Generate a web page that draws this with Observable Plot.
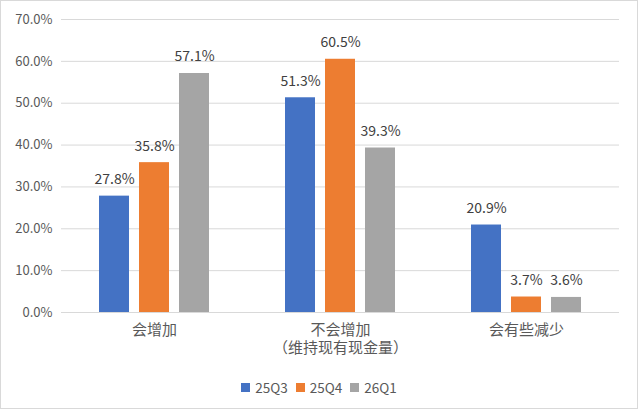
<!DOCTYPE html>
<html><head><meta charset="utf-8">
<script src="https://cdn.jsdelivr.net/npm/d3@7"></script>
<script src="https://cdn.jsdelivr.net/npm/@observablehq/plot@0.6"></script>
<style>
html,body{margin:0;padding:0;background:#fff;}
#wrap{width:638px;height:409px;box-sizing:border-box;border:1px solid #d9d9d9;position:relative;overflow:hidden;font-family:"Noto Sans CJK SC","Noto Sans",sans-serif;}
#chart svg{display:block;}
#legend{position:absolute;left:0;right:0;top:376px;display:flex;justify-content:center;gap:8px;font-size:13.5px;color:#595959;}
#legend span.item{display:flex;align-items:center;gap:5px;}
#legend i{display:inline-block;width:9px;height:9px;}
</style></head>
<body><div id="wrap"><div id="chart"></div><div id="legend"></div></div>
<script>
const categories = ["会增加", "不会增加\n（维持现有现金量）", "会有些减少"];
const series = ["25Q3", "25Q4", "26Q1"];
const colors = ["#4472C4", "#ED7D31", "#A5A5A5"];
const v25Q3 = [27.8, 51.3, 20.9];
const v25Q4 = [35.8, 60.5, 3.7];
const v26Q1 = [57.1, 39.3, 3.6];
const yTicks = [0, 10, 20, 30, 40, 50, 60, 70];

const values = [v25Q3, v25Q4, v26Q1];
const data = [];
categories.forEach((c, i) => series.forEach((s, j) => data.push({cat: c, series: s, value: values[j][i]})));

const chart = Plot.plot({
  width: 636, height: 368,
  marginTop: 18, marginBottom: 57, marginLeft: 59, marginRight: 18,
  style: {fontFamily: '"Noto Sans CJK SC","Noto Sans",sans-serif', color: "#595959", background: "transparent"},
  fx: {domain: categories, padding: 0, label: null},
  x: {domain: series, paddingInner: 0.25, paddingOuter: 0.95, axis: null},
  y: {domain: [0, 70], axis: null},
  color: {domain: series, range: colors},
  marks: [
    Plot.gridY(yTicks, {stroke: "#d9d9d9", strokeOpacity: 1}),
    Plot.axisFx({tickSize: 0, tickPadding: 10, fontSize: 15, lineHeight: 1.2, label: null, anchor: "bottom"}),
    Plot.barY(data, {fx: "cat", x: "series", y: "value", fill: "series"}),
    Plot.ruleY([0], {stroke: "#d9d9d9"}),
    Plot.text(data, {fx: "cat", x: "series", y: "value", text: d => d.value.toFixed(1) + "%", lineAnchor: "bottom", dy: -12, fontSize: 14, fill: "#404040"}),
    Plot.axisY(yTicks, {tickSize: 0, tickPadding: 9, fontSize: 13, tickFormat: d => d.toFixed(1) + "%", label: null})
  ]
});
document.getElementById("chart").appendChild(chart);

const lg = document.getElementById("legend");
series.forEach((s, j) => {
  const it = document.createElement("span");
  it.className = "item";
  it.innerHTML = `<i style="background:${colors[j]}"></i><span>${s}</span>`;
  lg.appendChild(it);
});
</script></body></html>
